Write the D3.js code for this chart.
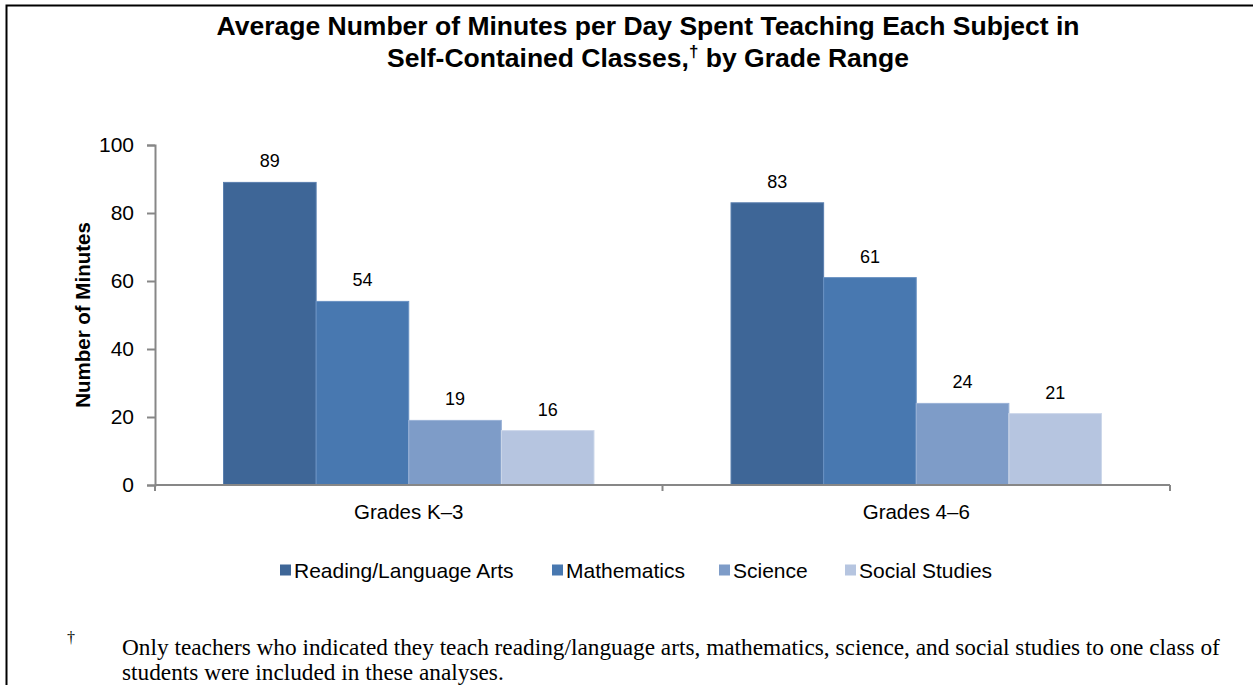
<!DOCTYPE html>
<html><head><meta charset="utf-8">
<script src="https://cdn.jsdelivr.net/npm/d3@7"></script>
<style>body{margin:0;background:#fff}svg{display:block}</style>
</head><body>
<svg id="c" width="1253" height="685"></svg>
<script>
const categories = ["Grades K\u20133", "Grades 4\u20136"];
const subjects = ["Reading/Language Arts", "Mathematics", "Science", "Social Studies"];
const readingValues = [89, 83];
const mathValues = [54, 61];
const scienceValues = [19, 24];
const socialValues = [16, 21];
const yTicks = [0, 20, 40, 60, 80, 100];
const colors = ["#3E6697", "#4878B0", "#7E9CC8", "#B6C5E0"];
const strokes = ["#5a7fae", "#6a92c3", "#9ab2d6", "#cdd8ea"];

const seriesValues = [readingValues, mathValues, scienceValues, socialValues];
const data = categories.map((c, i) => ({cat: c, vals: subjects.map((s, j) => ({s, j, v: seriesValues[j][i]}))}));

const SANS = "Liberation Sans, Arial, sans-serif";
const svg = d3.select("#c");
// frame
svg.append("path").attr("d", "M6.5,685 L6.5,5.5 L1253,5.5").attr("fill", "none").attr("stroke", "#000").attr("stroke-width", 2);

// title
const title = svg.append("text").attr("text-anchor", "middle").attr("font-family", SANS)
  .attr("font-weight", "bold").attr("font-size", 26.5).attr("fill", "#000");
title.append("tspan").attr("x", 648).attr("y", 35).text("Average Number of Minutes per Day Spent Teaching Each Subject in");
const t2 = title.append("tspan").attr("x", 648).attr("y", 67);
t2.append("tspan").text("Self-Contained Classes,");
t2.append("tspan").attr("font-size", 17).attr("dy", -10).text("\u2020");
t2.append("tspan").attr("dy", 10).text(" by Grade Range");

const pLeft = 155, pRight = 1170, pTop = 145, pBottom = 485;
const y = d3.scaleLinear().domain([0, 100]).range([pBottom, pTop]);
const x0 = d3.scaleBand().domain(categories).range([pLeft, pRight]).paddingInner(0.27).paddingOuter(0.135);
const x1 = d3.scaleBand().domain(subjects).range([0, x0.bandwidth()]);

// bars
const g = svg.append("g");
const grp = g.selectAll("g").data(data).join("g").attr("transform", d => `translate(${x0(d.cat)},0)`);
grp.selectAll("rect").data(d => d.vals).join("rect")
  .attr("x", d => x1(d.s)).attr("width", x1.bandwidth())
  .attr("y", d => y(d.v)).attr("height", d => y(0) - y(d.v))
  .attr("fill", d => colors[d.j]).attr("stroke", d => strokes[d.j]).attr("stroke-width", 1);
grp.selectAll("text.lbl").data(d => d.vals).join("text").attr("class", "lbl")
  .attr("x", d => x1(d.s) + x1.bandwidth() / 2).attr("y", d => y(d.v) - 15)
  .attr("text-anchor", "middle").attr("font-family", SANS).attr("font-size", 18)
  .text(d => d.v);

// y axis
const yAxis = svg.append("g").attr("transform", `translate(${pLeft},0)`)
  .call(d3.axisLeft(y).tickValues(yTicks).tickSize(8).tickPadding(13));
yAxis.select(".domain").attr("stroke", "#878787").attr("stroke-width", 2);
yAxis.selectAll(".tick line").attr("stroke", "#878787").attr("stroke-width", 2);
yAxis.selectAll(".tick text").attr("font-family", SANS).attr("font-size", 21).attr("fill", "#000");

// x axis
const xAxis = svg.append("g").attr("transform", `translate(0,${pBottom})`);
xAxis.append("line").attr("x1", pLeft).attr("x2", pRight).attr("stroke", "#878787").attr("stroke-width", 2);
const bounds = [pLeft, ...categories.map(c => x0(c) + x0.bandwidth() + x0.step() * x0.paddingInner() / 2)];
bounds[bounds.length - 1] = pRight;
xAxis.selectAll("line.tk").data(bounds).join("line").attr("class", "tk")
  .attr("x1", d => d).attr("x2", d => d).attr("y1", 0).attr("y2", 6).attr("stroke", "#878787").attr("stroke-width", 2);
xAxis.selectAll("text").data(categories).join("text")
  .attr("x", d => x0(d) + x0.bandwidth() / 2).attr("y", 34).attr("text-anchor", "middle")
  .attr("font-family", SANS).attr("font-size", 20.5).text(d => d);

// y title
svg.append("text").attr("transform", `translate(90,${(pTop + pBottom) / 2}) rotate(-90)`)
  .attr("text-anchor", "middle").attr("font-family", SANS)
  .attr("font-weight", "bold").attr("font-size", 20.5).text("Number of Minutes");

// legend
const legX = [280, 552, 719, 845];
const leg = svg.append("g").selectAll("g").data(subjects).join("g").attr("transform", (d, i) => `translate(${legX[i]},570)`);
leg.append("rect").attr("x", 0).attr("y", -5.5).attr("width", 11).attr("height", 11).attr("fill", (d, i) => colors[i]);
leg.append("text").attr("x", 14).attr("y", 7.5).attr("font-family", SANS)
  .attr("font-size", 21).text(d => d);

// footnote
const fn = svg.append("g").attr("font-family", "Liberation Serif, Times New Roman, serif").attr("font-size", 23.3).attr("fill", "#000");
fn.append("text").attr("x", 67).attr("y", 643).attr("font-size", 16).text("\u2020");
fn.append("text").attr("x", 122).attr("y", 655).text("Only teachers who indicated they teach reading/language arts, mathematics, science, and social studies to one class of");
fn.append("text").attr("x", 122).attr("y", 680).text("students were included in these analyses.");
</script>
</body></html>
